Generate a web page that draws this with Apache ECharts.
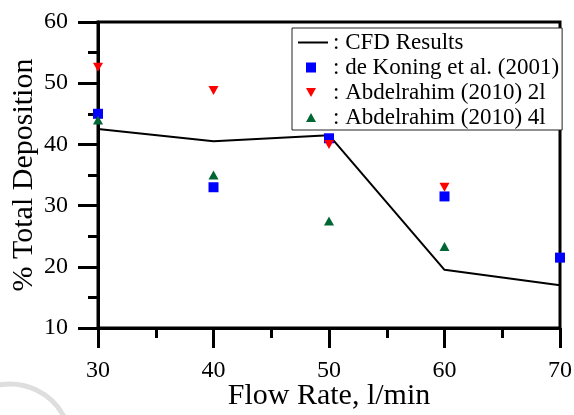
<!DOCTYPE html>
<html>
<head>
<meta charset="utf-8">
<script src="https://cdn.jsdelivr.net/npm/echarts@6/dist/echarts.min.js"></script>
<style>html,body{margin:0;padding:0;background:#fff}#c{width:574px;height:415px}</style>
</head>
<body>
<div id="c"></div>
<script>
const flowRates = [30, 40, 50, 60, 70];
const cfdResults = [42.5, 40.5, 41.5, 19.5, 17.0];
const deKoningX = [30, 40, 50, 60, 70];
const deKoning = [45.0, 33.0, 41.0, 31.5, 21.5];
const abd2lX = [30, 40, 50, 60];
const abd2l = [52.6, 48.8, 40.0, 33.0];
const abd4lX = [30, 40, 50, 60];
const abd4l = [44.0, 35.0, 27.5, 23.3];
const seriesNames = ['CFD Results', 'de Koning et al. (2001)', 'Abdelrahim (2010) 2l', 'Abdelrahim (2010) 4l'];

const pair = (xs, ys) => xs.map((x, i) => [x, ys[i]]);
const FONT = '"Liberation Serif", "Times New Roman", serif';
const downTri = 'path://M0,0 L10,0 L5,9 Z';
// legend icons: invisible moveTo corners fix a 30x10 box so the glyph keeps its size
const legSquare = 'path://M0,0 M30,10 M8,0 L18,0 L18,10 L8,10 Z';
const legDown = 'path://M0,0 M30,10 M8,0.5 L18,0.5 L13,9.5 Z';
const legUp = 'path://M0,0 M30,10 M13,0.5 L18,9.5 L8,9.5 Z';

const chart = echarts.init(document.getElementById('c'), null, {renderer: 'canvas'});
const axisLine = {show: true, lineStyle: {color: '#000', width: 3}};
const axisTick = {show: true, inside: false, length: 20, lineStyle: {color: '#000', width: 3}};
const minorTick = {show: true, splitNumber: 2, length: 10, lineStyle: {color: '#000', width: 3}};
const nameStyle = {color: '#000', fontFamily: FONT, fontSize: 30};
chart.setOption({
  animation: false,
  backgroundColor: '#fff',
  graphic: [{
    type: 'arc', z: -10, silent: true,
    shape: {cx: 10, cy: 445, r: 61, startAngle: -1.8, endAngle: -0.45},
    style: {stroke: '#dedede', lineWidth: 5, fill: null}
  }],
  grid: {left: 98, right: 14, top: 22, bottom: 87, outerBoundsMode: 'none', containLabel: false,
    show: true, borderColor: '#000', borderWidth: 3, backgroundColor: 'transparent'},
  xAxis: {type: 'value', min: 30, max: 70, interval: 10,
    axisLine, axisTick, minorTick, splitLine: {show: false},
    axisLabel: {color: '#000', fontFamily: FONT, fontSize: 24, margin: 31},
    name: 'Flow Rate, l/min', nameLocation: 'middle', nameGap: 53, nameMoveOverlap: false, nameTextStyle: nameStyle},
  yAxis: {type: 'value', min: 10, max: 60, interval: 10,
    axisLine, axisTick, minorTick, splitLine: {show: false},
    axisLabel: {color: '#000', fontFamily: FONT, fontSize: 24, margin: 30},
    name: '% Total Deposition', nameLocation: 'middle', nameGap: 59, nameMoveOverlap: false, nameTextStyle: nameStyle},
  legend: {
    orient: 'vertical', left: 292, top: 28,
    padding: [3, 3, 1, 5], itemGap: 2, itemWidth: 30, itemHeight: 10,
    borderColor: '#222', borderWidth: 1, backgroundColor: '#fff',
    formatter: n => ': ' + n,
    textStyle: {color: '#000', fontFamily: FONT, fontSize: 23, lineHeight: 22},
    data: [
      {name: seriesNames[0], itemStyle: {opacity: 0}},
      {name: seriesNames[1], icon: legSquare},
      {name: seriesNames[2], icon: legDown},
      {name: seriesNames[3], icon: legUp}
    ]
  },
  series: [
    {name: seriesNames[0], type: 'line', data: pair(flowRates, cfdResults), showSymbol: false, symbol: 'none',
      lineStyle: {color: '#000', width: 2}, itemStyle: {color: '#000'}, z: 2},
    {name: seriesNames[1], type: 'scatter', data: pair(deKoningX, deKoning), symbol: 'rect', symbolSize: 10,
      itemStyle: {color: '#0000ff', opacity: 1}, z: 3},
    {name: seriesNames[2], type: 'scatter', data: pair(abd2lX, abd2l), symbol: downTri, symbolSize: [10, 9],
      itemStyle: {color: '#ff0000', opacity: 1}, z: 3},
    {name: seriesNames[3], type: 'scatter', data: pair(abd4lX, abd4l), symbol: 'triangle', symbolSize: [10, 9],
      itemStyle: {color: '#006633', opacity: 1}, z: 3}
  ]
});
</script>
</body>
</html>
